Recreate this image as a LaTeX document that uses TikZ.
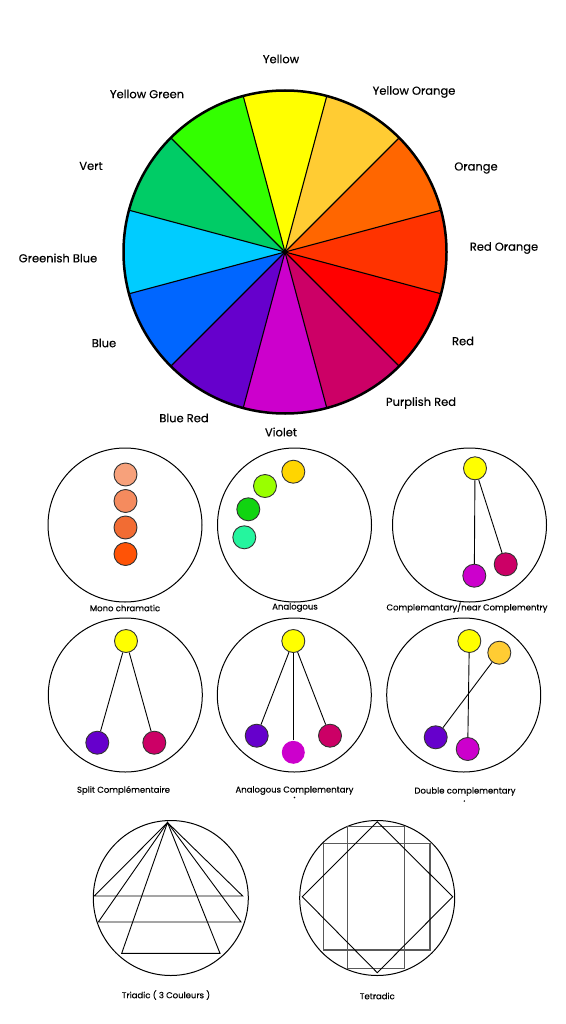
\documentclass[tikz,border=0pt]{standalone}
\usepackage{fontspec}
\setmainfont{Poppins}[FakeBold=0.35]
\definecolor{wYellow}{HTML}{FFFF00}
\definecolor{wYellowGreen}{HTML}{33FF00}
\definecolor{wVert}{HTML}{00CC66}
\definecolor{wGreenishBlue}{HTML}{00CCFF}
\definecolor{wBlue}{HTML}{0066FF}
\definecolor{wBlueRed}{HTML}{6600CC}
\definecolor{wViolet}{HTML}{CC00CC}
\definecolor{wPurplishRed}{HTML}{CC0066}
\definecolor{wRed}{HTML}{FF0000}
\definecolor{wRedOrange}{HTML}{FF3300}
\definecolor{wOrange}{HTML}{FF6600}
\definecolor{wYellowOrange}{HTML}{FFCC33}
\definecolor{monoA}{HTML}{F7A17B}
\definecolor{monoB}{HTML}{F58B5E}
\definecolor{monoC}{HTML}{F26C33}
\definecolor{monoD}{HTML}{FF5306}
\definecolor{anaA}{HTML}{FFD500}
\definecolor{anaB}{HTML}{99FF00}
\definecolor{anaC}{HTML}{11D411}
\definecolor{anaD}{HTML}{25F59E}
\begin{document}
\begin{tikzpicture}[x=1pt, y=-1pt,
  every node/.style={inner sep=0pt},
  lbl/.style={font=\fontsize{11.5}{13}\selectfont},
  caption/.style={font=\fontsize{8.5}{10}\selectfont},
  ring/.style={circle, draw, line width=1pt, minimum size=154pt},
  dot/.style={circle, draw=black!80, line width=0.9pt, minimum size=23pt},
  spoke/.style={line width=1.1pt},
  guide/.style={line width=0.9pt},
  grey box/.style={draw=black!65, line width=1.3pt}]
\useasboundingbox (0,0) rectangle (565,1024);
% Colour wheel
\coordinate (W) at (285,252);
\fill[wYellow] (W) -- ++(255:161.5) arc[start angle=255, end angle=285, radius=161.5] -- cycle;
\fill[wYellowGreen] (W) -- ++(225:161.5) arc[start angle=225, end angle=255, radius=161.5] -- cycle;
\fill[wVert] (W) -- ++(195:161.5) arc[start angle=195, end angle=225, radius=161.5] -- cycle;
\fill[wGreenishBlue] (W) -- ++(165:161.5) arc[start angle=165, end angle=195, radius=161.5] -- cycle;
\fill[wBlue] (W) -- ++(135:161.5) arc[start angle=135, end angle=165, radius=161.5] -- cycle;
\fill[wBlueRed] (W) -- ++(105:161.5) arc[start angle=105, end angle=135, radius=161.5] -- cycle;
\fill[wViolet] (W) -- ++(75:161.5) arc[start angle=75, end angle=105, radius=161.5] -- cycle;
\fill[wPurplishRed] (W) -- ++(45:161.5) arc[start angle=45, end angle=75, radius=161.5] -- cycle;
\fill[wRed] (W) -- ++(15:161.5) arc[start angle=15, end angle=45, radius=161.5] -- cycle;
\fill[wRedOrange] (W) -- ++(-15:161.5) arc[start angle=-15, end angle=15, radius=161.5] -- cycle;
\fill[wOrange] (W) -- ++(-45:161.5) arc[start angle=-45, end angle=-15, radius=161.5] -- cycle;
\fill[wYellowOrange] (W) -- ++(-75:161.5) arc[start angle=-75, end angle=-45, radius=161.5] -- cycle;
\foreach \a in {15,45,...,345}
  \draw[spoke] (W) -- ++(\a:161.5);
\draw[line width=2.5pt] (W) circle[radius=161.5];
% Wheel labels
\node[lbl] (yellow) at (281,59) {Yellow};
\node[lbl] (yellowgreen) at (147,94) {Yellow Green};
\node[lbl] (yelloworange) at (414,92) {Yellow Orange};
\node[lbl] (vert) at (91,166) {Vert};
\node[lbl] (orange) at (476,168) {Orange};
\node[lbl] (greenishblue) at (58,258) {Greenish Blue};
\node[lbl] (redorange) at (504,248) {Red Orange};
\node[lbl] (blue) at (104,343) {Blue};
\node[lbl] (red) at (463,341) {Red};
\node[lbl] (bluered) at (184,418) {Blue Red};
\node[lbl] (violet) at (281,432) {Violet};
\node[lbl] (purplishred) at (421,403) {Purplish Red};
% Mono chramatic
\node[ring] (mono) at (125,525) {};
\node[dot, fill=monoA] (m1) at (125.5,474.5) {};
\node[dot, fill=monoB] (m2) at (125.5,501) {};
\node[dot, fill=monoC] (m3) at (125.5,527.5) {};
\node[dot, fill=monoD] (m4) at (125.5,554) {};
\node[caption] (monolbl) at (125,608) {Mono chramatic};
% Analogous
\node[ring] (ana) at (294.5,525) {};
\node[dot, fill=anaA] (a1) at (293.3,471.7) {};
\node[dot, fill=anaB] (a2) at (265,486) {};
\node[dot, fill=anaC] (a3) at (248.3,509.3) {};
\node[dot, fill=anaD] (a4) at (244.3,537.3) {};
\node[caption] (analbl) at (295,607.5) {Analogous};
% Complementary
\node[ring] (comp) at (469.5,525) {};
\node[dot, fill=wYellow] (c1) at (475,468.3) {};
\node[dot, fill=wViolet] (c2) at (474.3,575.7) {};
\node[dot, fill=wPurplishRed] (c3) at (505.7,564.3) {};
\draw[guide] (c1) -- (c2);
\draw[guide] (c1) -- (c3);
\node[caption] (complbl) at (467,607.5) {Complemantary/near Complementry};
% Split
\node[ring] (split) at (125.3,695) {};
\node[dot, fill=wYellow] (s1) at (126,641) {};
\node[dot, fill=wBlueRed] (s2) at (97.3,742.7) {};
\node[dot, fill=wPurplishRed] (s3) at (154.3,742.7) {};
\draw[guide] (s1) -- (s2);
\draw[guide] (s1) -- (s3);
\node[caption] (splitlbl) at (123.5,790.5) {Split Complémentaire};
% Analogous complementary
\node[ring] (anacomp) at (294.3,695) {};
\node[dot, fill=wYellow] (ac1) at (293.3,641) {};
\node[dot, fill=wBlueRed] (ac2) at (256.7,735.7) {};
\node[dot, draw=none, fill=wViolet] (ac3) at (293.3,752.3) {};
\node[dot, fill=wPurplishRed] (ac4) at (330,735.7) {};
\draw[guide] (ac1) -- (ac2);
\draw[guide] (ac1) -- (ac3);
\draw[guide] (ac1) -- (ac4);
\node[caption] (anacomplbl) at (294.5,790.5) {Analogous Complementary};
\fill (294.5,797.5) circle[radius=0.8];
% Double complementary
\node[ring] (dbl) at (463.7,695) {};
\node[dot, fill=wYellow] (d1) at (469.3,641) {};
\node[dot, fill=wYellowOrange] (d2) at (499.3,652.7) {};
\node[dot, fill=wBlueRed] (d3) at (435.7,737.3) {};
\node[dot, fill=wViolet] (d4) at (467.7,749) {};
\draw[guide] (d1) -- (d4);
\draw[guide] (d2) -- (d3);
\node[caption] (dbllbl) at (465,791.5) {Double complementary};
\fill (464.3,801) circle[radius=0.8];
% Triadic
\node[ring, minimum size=155pt] (tri) at (170.8,898) {};
\coordinate (apex) at (167.5,822.5);
\draw[guide] (apex) -- (94.3,896) -- (242.7,896) -- cycle;
\draw[guide] (apex) -- (98.3,922) -- (241,922) -- cycle;
\draw[guide] (apex) -- (121.7,953.3) -- (220,953.3) -- cycle;
\node[caption] (trilbl) at (166,995) {Triadic ( 3 Couleurs )};
% Tetradic
\node[ring, minimum size=155pt] (tet) at (377.2,898) {};
\draw[grey box] (323.3,843.3) rectangle (430,950);
\draw[grey box] (347.3,826.7) rectangle (404.3,968.3);
\draw[guide] (377.3,821.7) -- (452.7,896.7) -- (377.3,972.7) -- (302.3,896.7) -- cycle;
\node[caption] (tetlbl) at (377.3,996) {Tetradic};
\end{tikzpicture}
\end{document}
